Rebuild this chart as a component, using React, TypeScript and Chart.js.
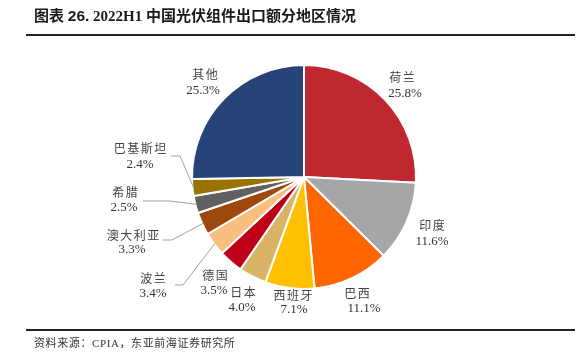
import React, { useEffect, useRef } from "react";
import { Chart, registerables } from "chart.js";

Chart.register(...registerables);

// ---- data ----
const categories = ["荷兰", "印度", "巴西", "西班牙", "日本", "德国", "波兰", "澳大利亚", "希腊", "巴基斯坦", "其他"];
const shares = [25.8, 11.6, 11.1, 7.1, 4.0, 3.5, 3.4, 3.3, 2.5, 2.4, 25.3];
const sliceColors = [
  "#C0282F", "#A6A6A6", "#FF6600", "#FFC000", "#DAB466", "#BE0019",
  "#F9BF7F", "#9E480E", "#616161", "#997300", "#264478",
];
const titlePrefix = "图表 ";
const titleNumber = "26.";
const titleRest = " 2022H1 中国光伏组件出口额分地区情况";
const sourceText = "资料来源：CPIA，东亚前海证券研究所";

// ---- label layout (text centres, leader elbows) ----
type Lay = { nx: number; ny: number; vx: number; vy: number; lead?: { ex: number; ey: number; endX: number } };
const labelLayout: Lay[] = [
  { nx: 402, ny: 77, vx: 405, vy: 94 },
  { nx: 432, ny: 225, vx: 432, vy: 242 },
  { nx: 357, ny: 293, vx: 364, vy: 309 },
  { nx: 293, ny: 295, vx: 294, vy: 310 },
  { nx: 243, ny: 292, vx: 242, vy: 308 },
  { nx: 215, ny: 275, vx: 214, vy: 291 },
  { nx: 153, ny: 278, vx: 153, vy: 294, lead: { ex: 183, ey: 285, endX: 175 } },
  { nx: 133, ny: 235, vx: 132, vy: 250, lead: { ex: 172, ey: 240, endX: 163 } },
  { nx: 125, ny: 192, vx: 124, vy: 208, lead: { ex: 170, ey: 201, endX: 143 } },
  { nx: 140, ny: 148, vx: 140, vy: 165, lead: { ex: 180, ey: 156, endX: 171 } },
  { nx: 205, ny: 74, vx: 203, vy: 91 },
];

function drawSpaced(ctx: CanvasRenderingContext2D, text: string, cx: number, cy: number, spacing: number) {
  const chars = Array.from(text);
  const widths = chars.map((c) => ctx.measureText(c).width);
  const total = widths.reduce((a, b) => a + b, 0) + spacing * (chars.length - 1);
  let x = cx - total / 2;
  ctx.textAlign = "left";
  chars.forEach((c, i) => {
    ctx.fillText(c, x, cy);
    x += widths[i] + spacing;
  });
}

const labelPlugin = {
  id: "pieLabels",
  afterDatasetsDraw(chart: any) {
    const ctx: CanvasRenderingContext2D = chart.ctx;
    const meta = chart.getDatasetMeta(0);
    ctx.save();
    meta.data.forEach((arc: any, i: number) => {
      const lay = labelLayout[i];
      if (!lay) return;
      const p = arc.getProps(["x", "y", "startAngle", "endAngle", "outerRadius"], true);
      if (lay.lead) {
        const mid = (p.startAngle + p.endAngle) / 2;
        const sx = p.x + Math.cos(mid) * (p.outerRadius - 1);
        const sy = p.y + Math.sin(mid) * (p.outerRadius - 1);
        ctx.strokeStyle = "#A0A0A0";
        ctx.lineWidth = 1;
        ctx.beginPath();
        ctx.moveTo(sx, sy);
        ctx.lineTo(lay.lead.ex, lay.lead.ey);
        ctx.lineTo(lay.lead.endX, lay.lead.ey);
        ctx.stroke();
      }
      ctx.fillStyle = "#444444";
      ctx.textBaseline = "middle";
      ctx.font = "12px 'Noto Sans CJK SC'";
      drawSpaced(ctx, categories[i], lay.nx, lay.ny, 1.5);
      ctx.fillStyle = "#333333";
      ctx.font = "13px 'Liberation Serif'";
      ctx.textAlign = "center";
      ctx.fillText(shares[i].toFixed(1) + "%", lay.vx, lay.vy);
    });
    ctx.restore();
  },
};

export default function App() {
  const canvasRef = useRef<HTMLCanvasElement | null>(null);

  useEffect(() => {
    const canvas = canvasRef.current;
    if (!canvas) return;
    const chart = new Chart(canvas, {
      type: "pie",
      data: {
        labels: categories,
        datasets: [
          {
            data: shares,
            backgroundColor: sliceColors,
            borderColor: "#FFFFFF",
            borderWidth: 2,
          },
        ],
      },
      options: {
        animation: false,
        responsive: false,
        maintainAspectRatio: false,
        radius: 112,
        layout: { padding: { left: 23, right: 0, top: 0, bottom: 3 } },
        plugins: {
          legend: { display: false },
          tooltip: { enabled: false },
          title: { display: false },
        },
      } as any,
      plugins: [labelPlugin],
    });
    return () => chart.destroy();
  }, []);

  return (
    <div style={{ position: "absolute", left: 0, top: 0, width: 585, height: 357, background: "#fff", overflow: "hidden" }}>
      <canvas ref={canvasRef} width={585} height={357} style={{ position: "absolute", left: 0, top: 0, width: 585, height: 357 }} />
      <div
        style={{
          position: "absolute",
          left: 34,
          top: 6,
          height: 20,
          lineHeight: "20px",
          fontSize: 15,
          fontWeight: "bold",
          fontFamily: "'Liberation Serif', 'Noto Sans CJK SC', serif",
          color: "#1a1a1a",
          whiteSpace: "nowrap",
        }}
      >
        {titlePrefix}
        <span style={{ fontFamily: "'Liberation Sans', sans-serif", fontSize: 15.5 }}>{titleNumber}</span>
        {titleRest}
      </div>
      <div style={{ position: "absolute", left: 26, top: 34, width: 549, height: 2, background: "#222" }} />
      <div style={{ position: "absolute", left: 26, top: 329, width: 549, height: 2, background: "#222" }} />
      <div
        style={{
          position: "absolute",
          left: 34,
          top: 335,
          height: 16,
          lineHeight: "16px",
          fontSize: 11,
          letterSpacing: 0.6,
          fontFamily: "'Liberation Serif', 'Noto Sans CJK SC', serif",
          color: "#333",
          whiteSpace: "nowrap",
        }}
      >
        {sourceText}
      </div>
    </div>
  );
}
